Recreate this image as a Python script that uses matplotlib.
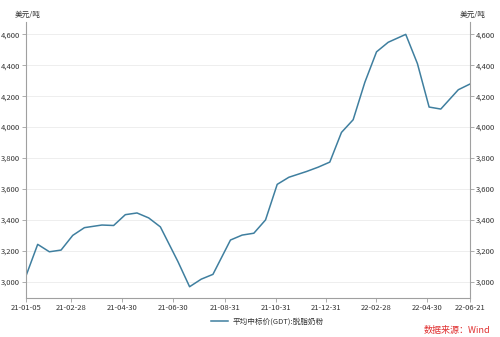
import pandas as pd
import matplotlib
matplotlib.use("Agg")
import matplotlib.pyplot as plt
import matplotlib.dates as mdates

plt.rcParams['font.family'] = ['Noto Sans CJK SC', 'DejaVu Sans']

# GDT auction dates and average winning price (skim milk powder), USD/t
dates = ["2021-01-05", "2021-01-19", "2021-02-02", "2021-02-16", "2021-03-02",
         "2021-03-16", "2021-04-06", "2021-04-20", "2021-05-04", "2021-05-18",
         "2021-06-01", "2021-06-15", "2021-07-06", "2021-07-20", "2021-08-03",
         "2021-08-17", "2021-09-07", "2021-09-21", "2021-10-05", "2021-10-19",
         "2021-11-02", "2021-11-16", "2021-12-07", "2021-12-21", "2022-01-04",
         "2022-01-18", "2022-02-01", "2022-02-15", "2022-03-01", "2022-03-15",
         "2022-04-05", "2022-04-19", "2022-05-03", "2022-05-17", "2022-06-07",
         "2022-06-21"]
prices = [3038, 3242, 3194, 3205, 3300, 3350, 3367, 3364, 3434, 3445,
          3413, 3355, 3131, 2968, 3017, 3048, 3270, 3302, 3314, 3400,
          3630, 3676, 3713, 3741, 3774, 3966, 4048, 4290, 4487, 4549,
          4600, 4411, 4130, 4117, 4242, 4279]

tick_dates = ["2021-01-05", "2021-02-28", "2021-04-30", "2021-06-30", "2021-08-31",
              "2021-10-31", "2021-12-31", "2022-02-28", "2022-04-30", "2022-06-21"]
y_ticks = [3000, 3200, 3400, 3600, 3800, 4000, 4200, 4400, 4600]

series_name = "平均中标价(GDT):脱脂奶粉"
unit = "美元/吨"
source = "数据来源：Wind"

x = pd.to_datetime(dates)
xt = pd.to_datetime(tick_dates)

fig = plt.figure(figsize=(5, 3.37), dpi=100)
ax = fig.add_axes([0.052, 0.1157, 0.888, 0.819])

line, = ax.plot(x, prices, color="#3f7f9f", lw=1.1)

ax.set_xlim(x[0], x[-1])
ax.set_ylim(2895, 4680)
ax.set_yticks(y_ticks)
ax.set_yticklabels([f"{v:,}" for v in y_ticks])
ax.set_xticks(xt)
ax.set_xticklabels([d.strftime("%y-%m-%d") for d in xt])

ax.grid(axis="y", color="#ebebeb", lw=0.6)
ax.set_axisbelow(True)

for side in ["left", "right", "bottom"]:
    ax.spines[side].set_color("#a0a0a0")
    ax.spines[side].set_linewidth(0.8)
ax.spines["top"].set_visible(False)

ax.tick_params(axis="both", labelsize=5.5, colors="#a0a0a0", labelcolor="#333333",
               length=3, width=0.6, pad=1.5)
ax.tick_params(axis="y", left=True, right=True, labelleft=True, labelright=True)

fig.text(0.03, 0.955, unit, fontsize=5.5, color="#333333", va="center", ha="left")
fig.text(0.92, 0.955, unit, fontsize=5.5, color="#333333", va="center", ha="left")

fig.legend([line], [series_name], loc="center", bbox_to_anchor=(0.535, 0.045),
           frameon=False, fontsize=5.5, handlelength=2.2, handletextpad=0.6,
           labelcolor="#333333")
fig.text(0.98, 0.02, source, fontsize=6.5, color="#e03030", ha="right", va="center")

fig.savefig("out.png", dpi=100)
